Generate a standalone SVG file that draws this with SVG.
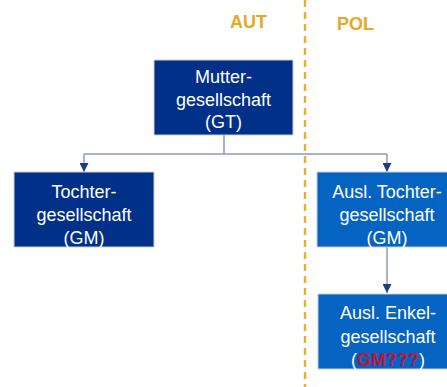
<svg xmlns="http://www.w3.org/2000/svg" width="447" height="387" viewBox="0 0 447 387">
<style>
.box{stroke:#c8d0dc;stroke-width:1}
.dark{fill:#003087}
.light{fill:#0563c1}
.t{font-family:"Liberation Sans",Arial,sans-serif;font-size:18px;fill:#ffffff;text-anchor:middle}
.hdr{font-family:"Liberation Sans",Arial,sans-serif;font-size:18px;font-weight:bold;fill:#e3a92b}
.conn{fill:none;stroke:#8b9bb5;stroke-width:1.5}
.red{fill:#c0153c;font-weight:bold}
</style>
<defs>
<marker id="ah" viewBox="0 0 10 10" refX="10" refY="5" markerWidth="9" markerHeight="9" markerUnits="userSpaceOnUse" orient="auto">
<path d="M0,0 L10,5 L0,10 Z" fill="#1f3a8a"/>
</marker>
</defs>
<rect width="447" height="387" fill="#ffffff"/>
<line x1="305" y1="0" x2="305" y2="387" stroke="#e3b23c" stroke-width="2.5" stroke-dasharray="7,5"/>
<text class="hdr" x="230" y="28">AUT</text>
<text class="hdr" x="337" y="30">POL</text>
<g id="connectors">
<path class="conn" d="M224,135 V154 M84,154 H387"/>
<path class="conn" d="M84,154 V172" marker-end="url(#ah)"/>
<path class="conn" d="M387,154 V172" marker-end="url(#ah)"/>
<path class="conn" d="M387,247 V293" marker-end="url(#ah)"/>
</g>
<g id="mutter">
<rect class="box dark" x="154" y="60" width="139" height="75"/>
<text class="t" x="223.5" y="83">Mutter-</text>
<text class="t" x="223.5" y="106">gesellschaft</text>
<text class="t" x="223.5" y="128">(GT)</text>
</g>
<g id="tochter">
<rect class="box dark" x="14" y="172" width="140" height="75"/>
<text class="t" x="84" y="198">Tochter-</text>
<text class="t" x="84" y="221">gesellschaft</text>
<text class="t" x="84" y="244">(GM)</text>
</g>
<g id="ausl-tochter">
<rect class="box light" x="317" y="172" width="140" height="75"/>
<text class="t" x="387" y="198">Ausl. Tochter-</text>
<text class="t" x="387" y="221">gesellschaft</text>
<text class="t" x="387" y="244">(GM)</text>
</g>
<g id="ausl-enkel">
<rect class="box light" x="318" y="294" width="140" height="75"/>
<text class="t" x="388" y="319">Ausl. Enkel-</text>
<text class="t" x="388" y="343">gesellschaft</text>
<text class="t" x="388" y="366">(<tspan class="red">GM???</tspan>)</text>
</g>
</svg>
